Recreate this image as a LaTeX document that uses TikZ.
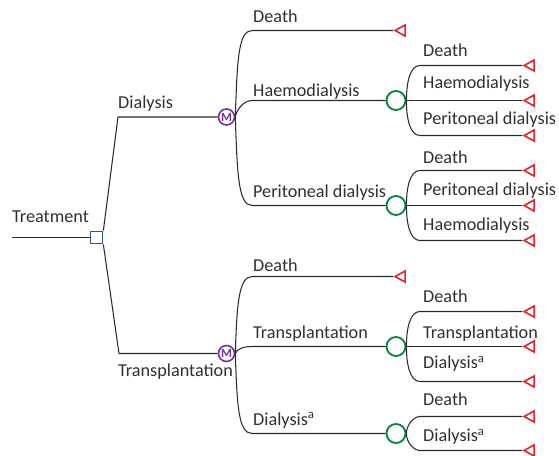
\documentclass[tikz,border=0pt]{standalone}
\usepackage{fontspec}
\setmainfont{Carlito}
\usetikzlibrary{shapes.geometric}
\definecolor{lineColor}{HTML}{2A2A2A}
\definecolor{textColor}{HTML}{303030}
\definecolor{decColor}{HTML}{2F5597}
\definecolor{markovColor}{HTML}{7030A0}
\definecolor{chanceColor}{HTML}{00843D}
\definecolor{termColor}{HTML}{E8202A}
\tikzset{
  branch/.style={lineColor, line width=1.05pt},
  lbl/.style={anchor=base west, inner sep=0pt, text=textColor, font=\fontsize{18.2}{21}\selectfont},
  decision/.style={draw=decColor, line width=1.7pt, rectangle, minimum size=12pt, inner sep=0pt},
  markov/.style={draw=markovColor, line width=1.6pt, circle, minimum size=16pt, inner sep=0pt,
    text=markovColor, font=\fontsize{12.5}{12.5}\selectfont\bfseries},
  chance/.style={draw=chanceColor, line width=1.8pt, circle, minimum size=19pt, inner sep=0pt},
  terminal/.style={draw=termColor, line width=1.6pt, isosceles triangle, shape border rotate=180,
    isosceles triangle stretches, minimum width=11pt, minimum height=10pt, inner sep=0pt, anchor=apex},
}

\begin{document}
\begin{tikzpicture}[x=1pt,y=-1pt]
  \useasboundingbox (0,0) rectangle (559,455);

  % decision node
  \node[decision] (treat) at (96.5,237.5) {};
  \coordinate (root) at (12,237.5);
  \node[lbl] (treatLbl) at (12,222) {Treatment};
  \draw[branch] (root) -- (treat.west);

  % markov nodes
  \node[markov] (mDia) at (226.5,117) {M};
  \node[markov] (mTra) at (226.5,353.5) {M};
  \coordinate (kDia) at (118,117);
  \coordinate (kTra) at (119,353.5);
  \draw[branch] (treat.north east) -- (kDia) -- (mDia.west);
  \draw[branch] (treat.south east) -- (kTra) -- (mTra.west);
  \node[lbl] at (118,108) {Dialysis};
  \node[lbl] at (118,376) {Transplantation};

  % dialysis states
  \node[terminal] (tDiaDeath) at (393,30.5) {};
  \node[chance] (cHae) at (396,100.5) {};
  \node[chance] (cPer) at (396,205.5) {};
  \coordinate (hDiaDeath) at (252,30.5);
  \coordinate (hHae) at (252,100.5);
  \coordinate (hPer) at (252,205.5);
  \draw[branch] (mDia.east) to[out=88,in=180,out distance=55,in distance=14] (hDiaDeath) -- (tDiaDeath.apex);
  \draw[branch] (mDia.east) to[out=80,in=180,out distance=8,in distance=8] (hHae) -- (cHae.west);
  \draw[branch] (mDia.east) to[out=-88,in=180,out distance=55,in distance=14] (hPer) -- (cPer.west);
  \node[lbl] at (253,22.7) {Death};
  \node[lbl] at (253,96) {Haemodialysis};
  \node[lbl] at (253,197.7) {Peritoneal dialysis};

  % haemodialysis chance
  \node[terminal] (tHaeDeath) at (522,65.5) {};
  \node[terminal] (tHaeHae) at (522,100.5) {};
  \node[terminal] (tHaePer) at (522,135.5) {};
  \coordinate (hHaeDeath) at (420,65.5);
  \coordinate (hHaePer) at (420,135.5);
  \draw[branch] (cHae.east) to[out=90,in=180,out distance=18,in distance=10] (hHaeDeath) -- (tHaeDeath.apex);
  \draw[branch] (cHae.east) -- (tHaeHae.apex);
  \draw[branch] (cHae.east) to[out=-90,in=180,out distance=18,in distance=10] (hHaePer) -- (tHaePer.apex);
  \node[lbl] at (423,56.7) {Death};
  \node[lbl] at (423,88.3) {Haemodialysis};
  \node[lbl] at (423,124.3) {Peritoneal dialysis};

  % peritoneal chance
  \node[terminal] (tPerDeath) at (522,170.5) {};
  \node[terminal] (tPerPer) at (522,205.5) {};
  \node[terminal] (tPerHae) at (522,240.5) {};
  \coordinate (hPerDeath) at (420,170.5);
  \coordinate (hPerHae) at (420,240.5);
  \draw[branch] (cPer.east) to[out=90,in=180,out distance=18,in distance=10] (hPerDeath) -- (tPerDeath.apex);
  \draw[branch] (cPer.east) -- (tPerPer.apex);
  \draw[branch] (cPer.east) to[out=-90,in=180,out distance=18,in distance=10] (hPerHae) -- (tPerHae.apex);
  \node[lbl] at (423,163.3) {Death};
  \node[lbl] at (423,195) {Peritoneal dialysis};
  \node[lbl] at (423,230) {Haemodialysis};

  % transplantation states
  \node[terminal] (tTraDeath) at (393,276.5) {};
  \node[chance] (cTra) at (396,346.5) {};
  \node[chance] (cDiaA) at (396,433.5) {};
  \coordinate (hTraDeath) at (252,276.5);
  \coordinate (hTra) at (252,346.5);
  \coordinate (hDiaA) at (252,433.5);
  \draw[branch] (mTra.east) to[out=88,in=180,out distance=45,in distance=14] (hTraDeath) -- (tTraDeath.apex);
  \draw[branch] (mTra.east) to[out=70,in=180,out distance=5,in distance=8] (hTra) -- (cTra.west);
  \draw[branch] (mTra.east) to[out=-88,in=180,out distance=50,in distance=14] (hDiaA) -- (cDiaA.west);
  \node[lbl] at (253,271.7) {Death};
  \node[lbl] at (253,338.3) {Transplantation};
  \node[lbl] at (253,425) {Dialysis\textsuperscript{a}};

  % transplantation chance
  \node[terminal] (tTraDeath2) at (522,311.5) {};
  \node[terminal] (tTraTra) at (522,346.5) {};
  \node[terminal] (tTraDia) at (522,381.5) {};
  \coordinate (hTraDeath2) at (420,311.5);
  \coordinate (hTraDia) at (420,381.5);
  \draw[branch] (cTra.east) to[out=90,in=180,out distance=18,in distance=10] (hTraDeath2) -- (tTraDeath2.apex);
  \draw[branch] (cTra.east) -- (tTraTra.apex);
  \draw[branch] (cTra.east) to[out=-90,in=180,out distance=18,in distance=10] (hTraDia) -- (tTraDia.apex);
  \node[lbl] at (423,302.7) {Death};
  \node[lbl] at (423,338.3) {Transplantation};
  \node[lbl] at (423,368.3) {Dialysis\textsuperscript{a}};

  % dialysis (a) chance
  \node[terminal] (tDiaADeath) at (522,416.5) {};
  \node[terminal] (tDiaADia) at (522,450.5) {};
  \coordinate (hDiaADeath) at (420,416.5);
  \coordinate (hDiaADia) at (420,450.5);
  \draw[branch] (cDiaA.east) to[out=90,in=180,out distance=9,in distance=6] (hDiaADeath) -- (tDiaADeath.apex);
  \draw[branch] (cDiaA.east) to[out=-90,in=180,out distance=9,in distance=6] (hDiaADia) -- (tDiaADia.apex);
  \node[lbl] at (423,405.7) {Death};
  \node[lbl] at (423,441.7) {Dialysis\textsuperscript{a}};
\end{tikzpicture}
\end{document}
